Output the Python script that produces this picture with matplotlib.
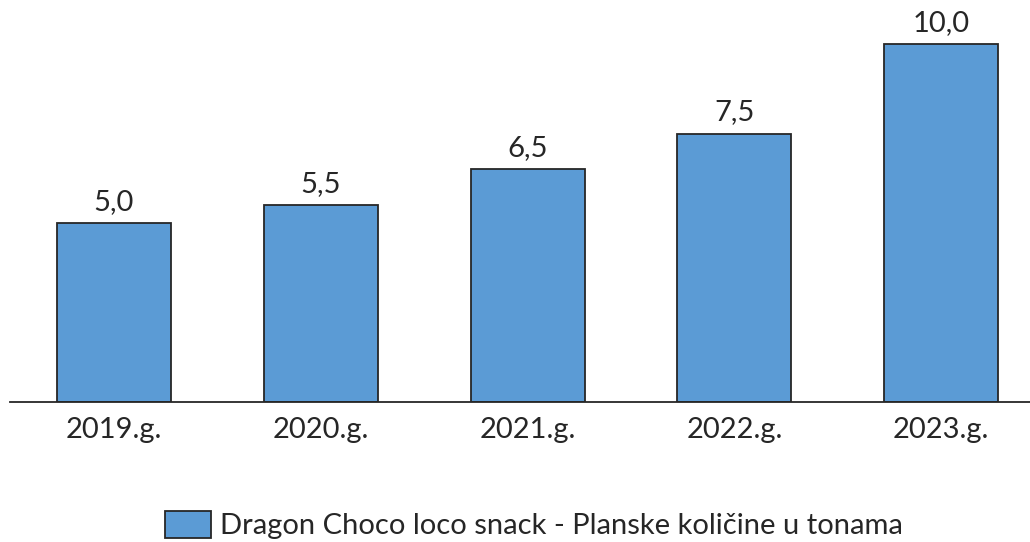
import matplotlib
matplotlib.use("Agg")
import matplotlib.pyplot as plt
from matplotlib.patches import Patch

categories = ["2019.g.", "2020.g.", "2021.g.", "2022.g.", "2023.g."]
values = [5.0, 5.5, 6.5, 7.5, 10.0]
value_labels = ["5,0", "5,5", "6,5", "7,5", "10,0"]
series_name = "Dragon Choco loco snack - Planske količine u tonama"

plt.rcParams['font.family'] = ['Lato', 'DejaVu Sans']

W, H = 1030, 542
FS = 21
fig = plt.figure(figsize=(W / 100, H / 100), dpi=100)
ax = fig.add_axes([10 / W, (H - 402) / H, 1 - 10 / W, 402 / H])

x = list(range(len(categories)))
bars = ax.bar(x, values, width=0.551, color="#5B9BD5", edgecolor="#262626", linewidth=1.3, zorder=2)

ax.set_xlim(-0.503, 4.43)
ax.set_ylim(0, 11.23)

for xi, v, lab in zip(x, values, value_labels):
    ax.annotate(lab, (xi, v), xytext=(0, 6), textcoords="offset points",
                ha="center", va="bottom", fontsize=FS, color="#262626")

ax.set_xticks(x)
ax.set_xticklabels(categories, fontsize=FS, color="#262626")
ax.tick_params(axis="x", length=0, pad=11)
ax.set_yticks([])
for s in ["top", "right", "left"]:
    ax.spines[s].set_visible(False)
ax.spines["bottom"].set_color("#262626")
ax.spines["bottom"].set_linewidth(1.3)
ax.spines["bottom"].set_zorder(3)

handle = Patch(facecolor="#5B9BD5", edgecolor="#262626", linewidth=1.3)
fig.legend([handle], [series_name], loc="center", bbox_to_anchor=(534 / W, 1 - 525 / H),
           frameon=False, fontsize=FS, handlelength=1.58, handleheight=1.06,
           handletextpad=0.3, labelcolor="#262626", borderpad=0.1)

fig.savefig("out.png", dpi=100)
